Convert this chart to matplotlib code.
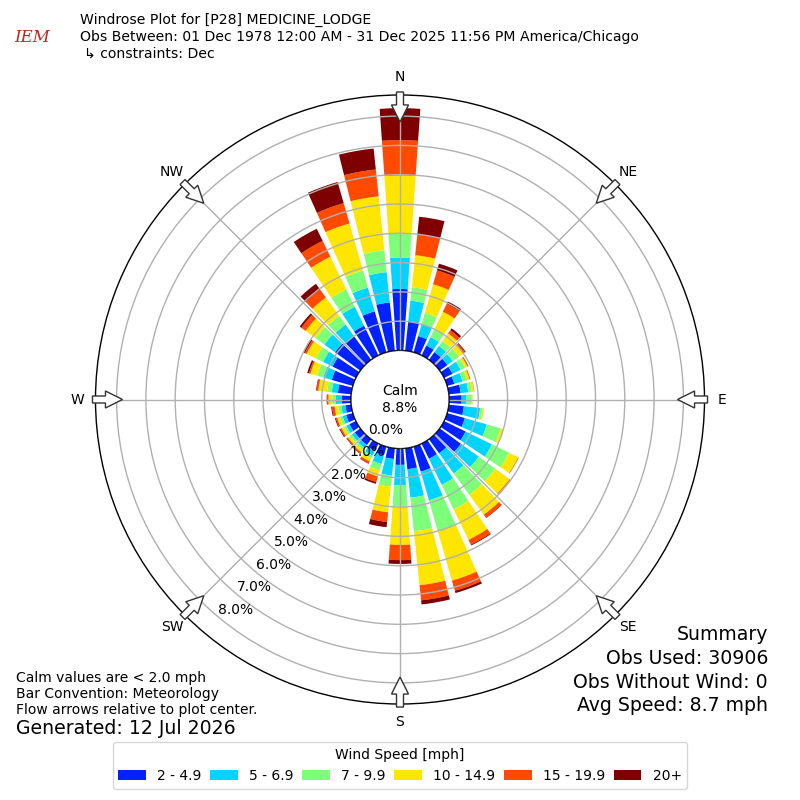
import numpy as np
import matplotlib
matplotlib.use("Agg")
import matplotlib.pyplot as plt
from matplotlib.patches import Circle, FancyArrow, Patch

# wind direction bins (degrees, meteorological) and speed classes
directions = list(range(0, 360, 10))
speed_labels = ["2 - 4.9", "5 - 6.9", "7 - 9.9", "10 - 14.9", "15 - 19.9", "20+"]
speed_colors = ["#0022ff", "#00d4ff", "#7dff7a", "#ffe600", "#ff4a00", "#7f0000"]

# percent frequency per direction, one list per speed class
pct_2_5 = [2.10, 1.02, 0.58, 0.38, 0.33, 0.33, 0.32, 0.26, 0.41, 0.43, 0.52, 0.63,
           0.82, 0.90, 0.60, 0.58, 0.89, 0.72, 0.56, 0.37, 0.32, 0.28, 0.25, 0.24,
           0.25, 0.24, 0.20, 0.32, 0.46, 0.75, 0.89, 1.07, 1.01, 1.13, 1.46, 1.66]
pct_5_7 = [1.07, 0.70, 0.42, 0.32, 0.26, 0.23, 0.31, 0.29, 0.26, 0.17, 0.56, 0.78,
           1.00, 0.75, 0.85, 0.99, 1.02, 0.98, 0.69, 0.57, 0.30, 0.18, 0.13, 0.12,
           0.12, 0.13, 0.14, 0.20, 0.21, 0.30, 0.36, 0.45, 0.48, 0.72, 0.84, 1.04]
pct_7_10 = [0.83, 0.46, 0.40, 0.30, 0.21, 0.26, 0.17, 0.16, 0.12, 0.18, 0.08, 0.49,
            0.65, 0.70, 0.90, 0.93, 1.09, 1.15, 0.74, 0.38, 0.22, 0.10, 0.08, 0.08,
            0.08, 0.09, 0.11, 0.12, 0.16, 0.22, 0.27, 0.37, 0.37, 0.66, 0.61, 0.75]
pct_10_15 = [1.97, 1.10, 1.02, 0.66, 0.32, 0.18, 0.09, 0.09, 0.08, 0.03, 0.05, 0.09,
             0.35, 0.60, 0.84, 1.16, 1.76, 1.85, 1.30, 0.88, 0.22, 0.12, 0.10, 0.09,
             0.10, 0.10, 0.12, 0.13, 0.30, 0.24, 0.35, 0.42, 0.77, 1.24, 1.67, 1.85]
pct_15_20 = [1.21, 0.71, 0.49, 0.30, 0.13, 0.07, 0.03, 0.03, 0.01, 0.00, 0.00, 0.00,
             0.02, 0.03, 0.12, 0.18, 0.36, 0.52, 0.52, 0.33, 0.20, 0.07, 0.05, 0.04,
             0.05, 0.05, 0.09, 0.04, 0.06, 0.05, 0.07, 0.18, 0.34, 0.60, 0.72, 0.92]
pct_20_up = [1.09, 0.61, 0.24, 0.09, 0.08, 0.03, 0.01, 0.00, 0.00, 0.00, 0.00, 0.00,
             0.00, 0.00, 0.02, 0.03, 0.08, 0.14, 0.13, 0.18, 0.06, 0.02, 0.02, 0.02,
             0.03, 0.03, 0.03, 0.02, 0.02, 0.06, 0.06, 0.07, 0.24, 0.46, 0.75, 0.72]
speed_series = [pct_2_5, pct_5_7, pct_7_10, pct_10_15, pct_15_20, pct_20_up]

calm_pct = 8.8
ring_values = [0, 1, 2, 3, 4, 5, 6, 7, 8]
compass_labels = ["N", "NE", "E", "SE", "S", "SW", "W", "NW"]
compass_angles = [0, 45, 90, 135, 180, 225, 270, 315]

fig = plt.figure(figsize=(8, 8), dpi=100)
ax = fig.add_axes([95.5 / 800, 96 / 800, 609 / 800, 609 / 800], projection="polar")
ax.set_theta_zero_location("N")
ax.set_theta_direction(-1)
ax.set_ylim(0, 8.72)
ax.set_rorigin(-1.672)

theta = np.deg2rad(directions)
bottom = np.zeros(len(directions))
for vals, col in zip(speed_series, speed_colors):
    vals = np.array(vals)
    ax.bar(theta, vals, width=np.deg2rad(8), bottom=bottom, color=col,
           edgecolor="none", align="center", zorder=1)
    bottom += vals

# grid above the bars, like the original
ax.set_axisbelow(False)
ax.set_xticks(np.deg2rad(compass_angles))
ax.set_xticklabels([])
ax.set_yticks(ring_values[1:])
ax.set_yticklabels([])
ax.grid(True, color="#b0b0b0", linewidth=1)
ax.spines["polar"].set_color("black")
ax.spines["polar"].set_linewidth(1)

# calm circle in the middle
calm = Circle((0.5, 0.5), 49 / 609, transform=ax.transAxes, facecolor="white",
              edgecolor="black", linewidth=1, zorder=3)
ax.add_patch(calm)
ax.text(0.5, 0.5, f"Calm\n{calm_pct:.1f}%", transform=ax.transAxes, ha="center",
        va="center", fontsize=10, zorder=6)

# radial labels
for v in ring_values:
    ax.text(np.deg2rad(220), v, f"{v:.1f}%", ha="left", va="bottom", fontsize=10, zorder=6)

# compass labels and flow arrows
for lab, ang in zip(compass_labels, compass_angles):
    a = np.deg2rad(ang)
    ax.text(a, 9.33, lab, ha="center", va="center", fontsize=10)
    k = 0.505
    x0 = 0.5 + k * np.sin(a)
    y0 = 0.5 + k * np.cos(a)
    L = 30 / 609
    arr = FancyArrow(x0, y0, -L * np.sin(a), -L * np.cos(a), width=7 / 609,
                     head_width=17 / 609, head_length=17 / 609,
                     length_includes_head=True, transform=ax.transAxes,
                     facecolor="white", edgecolor="#333333", linewidth=1,
                     clip_on=False, zorder=7)
    ax.add_patch(arr)

# header
fig.text(0.018, 1 - 38 / 800, "IEM", color="#c82020", fontsize=12, style="italic",
         family="DejaVu Serif", va="center")
fig.text(80 / 800, 1 - 20 / 800, "Windrose Plot for [P28] MEDICINE_LODGE",
         fontsize=10.1, va="center")
fig.text(80 / 800, 1 - 37 / 800,
         "Obs Between: 01 Dec 1978 12:00 AM - 31 Dec 2025 11:56 PM America/Chicago",
         fontsize=10.1, va="center")
fig.text(84 / 800, 1 - 54 / 800, "\u21b3 constraints: Dec", fontsize=10.1, va="center")

# footer notes
fig.text(16 / 800, 1 - 678 / 800, "Calm values are < 2.0 mph", fontsize=10, va="center")
fig.text(16 / 800, 1 - 694 / 800, "Bar Convention: Meteorology", fontsize=10, va="center")
fig.text(16 / 800, 1 - 710 / 800, "Flow arrows relative to plot center.", fontsize=10,
         va="center")
fig.text(16 / 800, 1 - 729 / 800, "Generated: 12 Jul 2026", fontsize=13.6, va="center")

summary = ["Summary", "Obs Used: 30906", "Obs Without Wind: 0", "Avg Speed: 8.7 mph"]
for i, line in enumerate(summary):
    fig.text(768 / 800, 1 - (635 + 23.5 * i) / 800, line, fontsize=13.6, ha="right",
             va="center")

handles = [Patch(facecolor=c) for c in speed_colors]
fig.legend(handles, speed_labels, ncol=6, loc="center", bbox_to_anchor=(0.5, 1 - 765.5 / 800),
           title="Wind Speed [mph]", fontsize=10, title_fontsize=10, columnspacing=0.62)

fig.savefig("out.png", dpi=100)
